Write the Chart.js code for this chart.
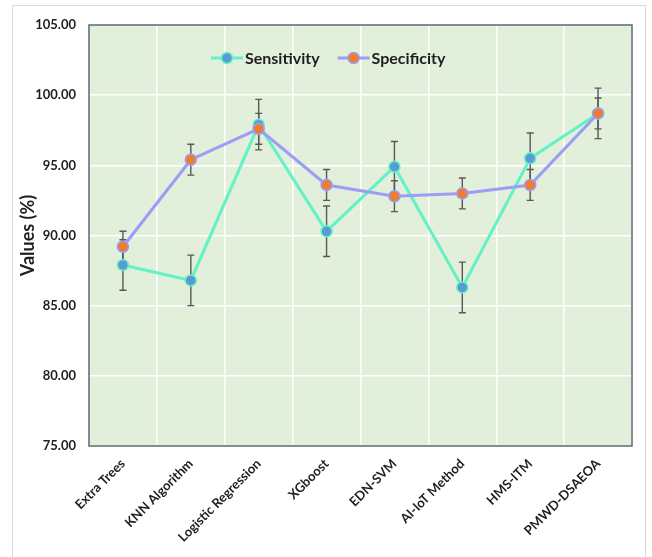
<!DOCTYPE html>
<html>
<head>
<meta charset="utf-8">
<title>Sensitivity and Specificity by Method</title>
<script src="https://cdn.jsdelivr.net/npm/chart.js@4.4.1/dist/chart.umd.min.js"></script>
<style>
  html, body { margin: 0; padding: 0; background: #ffffff; }
  #wrap { position: relative; width: 652px; height: 557px; }
</style>
</head>
<body>
<div id="wrap"><canvas id="chart" width="652" height="557"></canvas></div>
<script>
// Methods compared
const methods = ['Extra Trees', 'KNN Algorithm', 'Logistic Regression', 'XGboost', 'EDN-SVM', 'AI-IoT Method', 'HMS-ITM', 'PMWD-DSAEOA'];

// Metric values (%)
const sensitivity = [87.9, 86.8, 97.9, 90.3, 94.9, 86.3, 95.5, 98.7];
const specificity = [89.2, 95.4, 97.6, 93.6, 92.8, 93.0, 93.6, 98.7];

// Error bar half-widths (%)
const sensitivityErr = [1.8, 1.8, 1.8, 1.8, 1.8, 1.8, 1.8, 1.8];
const specificityErr = [1.1, 1.1, 1.1, 1.1, 1.1, 1.1, 1.1, 1.1];

// Value axis tick labels
const yTicks = ['75.00', '80.00', '85.00', '90.00', '95.00', '100.00', '105.00'];

const FONT = 'Lato, "Open Sans", "DejaVu Sans", sans-serif';
const TEXT = '#1e1e1e';

const sensLine = '#62F2C6';
const sensDot = '#5B9BD5';
const specLine = '#9D9CF6';
const specDot = '#ED7D31';

// Light green plot area, outer frame and plot border
const framePlugin = {
  id: 'frame',
  beforeDraw(chart) {
    const { ctx, chartArea: a } = chart;
    ctx.save();
    ctx.fillStyle = '#ffffff';
    ctx.fillRect(0, 0, chart.width, chart.height);
    ctx.strokeStyle = '#d9d9d9';
    ctx.lineWidth = 1;
    ctx.strokeRect(12.5, 5.5, 633, 560);
    ctx.fillStyle = '#E2EFDA';
    ctx.fillRect(a.left, a.top, a.right - a.left, a.bottom - a.top);
    ctx.restore();
  },
  afterDatasetsDraw(chart) {
    const { ctx, chartArea: a } = chart;
    ctx.save();
    ctx.strokeStyle = '#5b6770';
    ctx.lineWidth = 1.5;
    ctx.strokeRect(a.left, a.top, a.right - a.left, a.bottom - a.top);
    ctx.restore();
  }
};

// Vertical error bars with caps, drawn under the lines and markers
const errorBarPlugin = {
  id: 'errorBars',
  beforeDatasetsDraw(chart) {
    const { ctx } = chart;
    const y = chart.scales.y;
    const sets = [[0, sensitivityErr], [1, specificityErr]];
    ctx.save();
    ctx.strokeStyle = '#595959';
    ctx.lineWidth = 1.4;
    sets.forEach(([di, errs]) => {
      const meta = chart.getDatasetMeta(di);
      const vals = chart.data.datasets[di].data;
      meta.data.forEach((pt, i) => {
        const top = y.getPixelForValue(vals[i] + errs[i]);
        const bot = y.getPixelForValue(vals[i] - errs[i]);
        const x = pt.x;
        ctx.beginPath();
        ctx.moveTo(x, top); ctx.lineTo(x, bot);
        ctx.moveTo(x - 3.5, top); ctx.lineTo(x + 3.5, top);
        ctx.moveTo(x - 3.5, bot); ctx.lineTo(x + 3.5, bot);
        ctx.stroke();
      });
    });
    ctx.restore();
  }
};

// Legend drawn inside the plot area: line with marker, then label
const legendPlugin = {
  id: 'insideLegend',
  afterDraw(chart) {
    const { ctx, chartArea: a } = chart;
    const items = chart.data.datasets.map(ds => ({
      text: ds.label, line: ds.borderColor, dot: ds.pointBackgroundColor
    }));
    ctx.save();
    ctx.font = 'bold 16px ' + FONT;
    const lineW = 32, gap = 2, between = 18;
    const widths = items.map(it => lineW + gap + ctx.measureText(it.text).width);
    let x = a.left + 122;
    const yy = a.top + 33;
    items.forEach((it, i) => {
      ctx.strokeStyle = it.line;
      ctx.lineWidth = 3;
      ctx.beginPath();
      ctx.moveTo(x, yy); ctx.lineTo(x + lineW, yy);
      ctx.stroke();
      ctx.beginPath();
      ctx.arc(x + lineW / 2, yy, 5.5, 0, Math.PI * 2);
      ctx.fillStyle = it.dot;
      ctx.fill();
      ctx.lineWidth = 1.5;
      ctx.strokeStyle = it.line;
      ctx.stroke();
      ctx.fillStyle = TEXT;
      ctx.textBaseline = 'middle';
      ctx.textAlign = 'left';
      ctx.fillText(it.text, x + lineW + gap, yy + 1);
      x += widths[i] + between;
    });
    ctx.restore();
  }
};

new Chart(document.getElementById('chart'), {
  type: 'line',
  data: {
    labels: methods,
    datasets: [
      {
        label: 'Sensitivity',
        data: sensitivity,
        borderColor: sensLine,
        backgroundColor: sensDot,
        borderWidth: 3,
        pointRadius: 5.5,
        pointHoverRadius: 5.5,
        pointBackgroundColor: sensDot,
        pointBorderColor: sensLine,
        pointBorderWidth: 1.5,
        tension: 0,
        order: 1
      },
      {
        label: 'Specificity',
        data: specificity,
        borderColor: specLine,
        backgroundColor: specDot,
        borderWidth: 3,
        pointRadius: 5.5,
        pointHoverRadius: 5.5,
        pointBackgroundColor: specDot,
        pointBorderColor: specLine,
        pointBorderWidth: 1.5,
        tension: 0,
        order: 0
      }
    ]
  },
  options: {
    responsive: false,
    animation: false,
    events: [],
    layout: { padding: { left: 0, top: 25, right: 20, bottom: 0 } },
    plugins: {
      legend: { display: false },
      tooltip: { enabled: false }
    },
    scales: {
      x: {
        offset: true,
        grid: { offset: true, color: '#ffffff', lineWidth: 1.5, drawTicks: false },
        border: { display: false },
        ticks: {
          color: TEXT,
          font: { family: FONT, size: 13, weight: 'bold' },
          minRotation: 45,
          maxRotation: 45,
          padding: 10,
          autoSkip: false
        },
        afterFit(scale) { scale.height = 111; }
      },
      y: {
        min: 75,
        max: 105,
        grid: { color: '#ffffff', lineWidth: 1.5, drawTicks: false },
        border: { display: false },
        afterBuildTicks(scale) {
          scale.ticks = yTicks.map(t => ({ value: parseFloat(t) }));
        },
        ticks: {
          color: TEXT,
          font: { family: FONT, size: 13, weight: 'bold' },
          padding: 13,
          callback: (v) => yTicks.find(t => parseFloat(t) === v)
        },
        title: {
          display: true,
          text: 'Values (%)',
          color: TEXT,
          font: { family: FONT, size: 18, weight: 'bold' },
          padding: { top: 17, bottom: 0 }
        },
        afterFit(scale) { scale.width = 89; }
      }
    }
  },
  plugins: [framePlugin, errorBarPlugin, legendPlugin]
});
</script>
</body>
</html>
